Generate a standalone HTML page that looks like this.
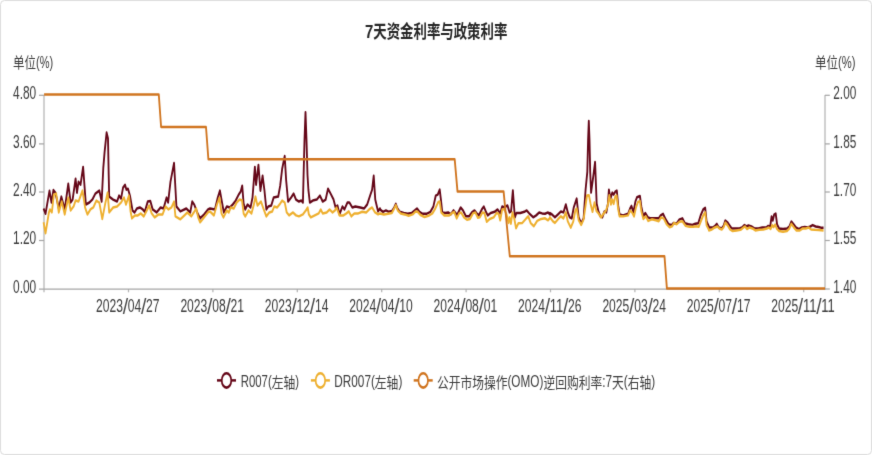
<!DOCTYPE html>
<html lang="zh-CN"><head><meta charset="utf-8"><title>7天资金利率与政策利率</title>
<style>html,body{margin:0;padding:0;background:#fff;}body{width:872px;height:455px;overflow:hidden;}svg{display:block;}</style>
</head><body>
<svg width="872" height="455" viewBox="0 0 872 455">
<defs><filter id="soft" x="0" y="0" width="100%" height="100%" color-interpolation-filters="sRGB"><feConvolveMatrix order="3" kernelMatrix="0.01 0.08 0.01 0.08 0.64 0.08 0.01 0.08 0.01" edgeMode="duplicate" preserveAlpha="false"/></filter></defs>
<g filter="url(#soft)">
<rect x="-2" y="-2" width="876" height="459" fill="#fff"/><rect x="0.5" y="0.5" width="871" height="454" rx="4" ry="4" fill="#fff" stroke="#dadada" stroke-width="1"/>
<g stroke="#b4b4b4" stroke-width="1.25" fill="none">
<path d="M44.0 95.0 V292.3 M825.0 95.0 V289.6"/>
<path d="M212.90 289 V292.3"/>
<path d="M297.30 289 V292.3"/>
<path d="M381.70 289 V292.3"/>
<path d="M466.10 289 V292.3"/>
<path d="M550.50 289 V292.3"/>
<path d="M634.90 289 V292.3"/>
<path d="M719.30 289 V292.3"/>
<path d="M803.70 289 V292.3"/>
<path d="M128.5 289 V292.3"/>
</g>
<g stroke="#a6a6a6" stroke-width="1.25" fill="none">
<path d="M39 289 H825.6"/>
<path d="M39 95.30 H44.0"/>
<path d="M39 143.90 H44.0"/>
<path d="M39 192.00 H44.0"/>
<path d="M39 240.50 H44.0"/>
<path d="M825.0 95.30 H829.8"/>
<path d="M825.0 143.90 H829.8"/>
<path d="M825.0 192.00 H829.8"/>
<path d="M825.0 240.50 H829.8"/>
<path d="M825.0 289.00 H829.8"/>
</g>
<g transform="scale(0.74 1)" fill="none" stroke-width="2.5" stroke-linejoin="round" stroke-linecap="butt">
<path d="M58.86 208.46 L61.53 213.80 L66.88 190.66 L69.55 202.53 L72.22 190.07 L74.89 192.64 L79.43 208.46 L82.91 196.59 L87.45 209.45 L92.26 183.74 L95.46 202.53 L98.14 199.56 L102.14 178.79 L104.01 192.64 L106.15 181.76 L108.82 184.73 L112.30 166.92 L116.04 204.51 L120.84 202.53 L124.85 199.56 L128.86 193.63 L134.20 190.66 L137.41 201.54 L139.59 168.00 L141.35 152.00 L144.05 132.60 L145.95 138.40 L146.89 175.00 L147.56 196.59 L152.90 199.56 L158.25 201.54 L160.92 195.60 L163.59 198.57 L166.26 187.69 L168.93 184.73 L170.80 189.67 L172.94 188.68 L175.61 195.60 L179.09 210.44 L181.76 212.42 L184.96 208.46 L188.97 207.47 L192.98 209.45 L195.65 211.82 L199.66 201.54 L203.13 200.95 L206.34 209.45 L211.68 212.42 L217.02 207.47 L221.03 208.46 L225.04 197.58 L227.18 202.53 L230.38 181.76 L235.19 162.97 L238.40 206.48 L243.74 211.43 L251.76 208.46 L257.10 212.42 L259.77 201.54 L262.44 204.51 L266.45 212.42 L270.46 218.35 L275.80 214.40 L281.14 209.45 L283.78 208.46 L290.46 209.45 L293.94 198.57 L297.14 190.66 L299.81 201.54 L302.49 212.42 L306.49 206.48 L310.50 207.47 L314.51 204.51 L318.52 200.55 L322.52 194.62 L325.19 191.65 L327.33 185.71 L329.20 203.52 L331.34 209.45 L334.54 204.51 L338.55 207.47 L341.22 197.58 L344.43 166.92 L346.03 184.73 L349.24 164.95 L351.91 190.66 L354.85 175.82 L357.25 189.67 L359.93 209.45 L362.60 206.48 L366.60 205.49 L369.81 197.58 L375.96 196.59 L378.63 185.71 L381.30 168.90 L384.73 156.00 L386.64 179.78 L389.31 201.54 L393.32 197.58 L396.79 193.63 L400.00 199.56 L404.01 201.54 L407.21 200.55 L409.35 202.53 L410.27 175.00 L411.49 140.00 L412.84 112.30 L414.19 140.00 L415.54 175.00 L416.76 190.00 L418.70 202.53 L422.71 200.55 L428.05 199.56 L432.33 195.60 L436.07 201.54 L440.07 199.56 L443.28 188.68 L446.75 193.63 L450.76 199.56 L453.43 207.47 L456.10 205.49 L458.78 214.40 L462.78 206.48 L465.46 209.45 L469.46 202.53 L472.13 202.53 L476.14 207.47 L480.15 206.48 L486.83 207.47 L492.17 208.46 L496.18 204.51 L500.19 195.60 L502.86 189.67 L505.00 175.82 L507.13 199.56 L510.87 211.43 L513.54 208.46 L513.51 209.45 L517.52 211.82 L521.53 210.44 L525.54 211.82 L529.54 211.03 L532.75 207.47 L534.89 203.91 L537.02 208.46 L540.23 211.82 L545.57 213.01 L550.92 213.80 L556.26 213.01 L560.27 210.44 L563.47 208.46 L566.95 211.82 L570.95 213.80 L576.30 213.80 L581.64 211.82 L585.65 206.48 L588.85 195.60 L591.53 194.62 L594.20 189.67 L595.80 199.56 L597.67 212.42 L601.68 213.01 L605.68 212.42 L609.16 214.40 L612.90 210.44 L617.71 214.99 L622.52 207.47 L625.72 210.44 L629.73 216.37 L633.74 216.37 L637.74 212.42 L641.22 210.44 L644.42 213.41 L647.10 215.38 L651.10 209.45 L653.77 206.48 L656.45 211.43 L659.12 215.38 L663.13 213.01 L668.47 211.82 L672.48 209.45 L675.95 213.41 L678.62 206.48 L681.83 207.47 L685.83 205.49 L688.51 212.42 L690.64 211.43 L693.05 190.46 L695.72 217.36 L697.86 213.01 L703.20 213.01 L708.54 211.82 L711.75 210.44 L715.22 213.41 L720.57 217.36 L724.57 215.38 L728.58 212.42 L732.59 213.41 L736.60 213.80 L740.60 212.42 L743.27 214.40 L743.24 213.01 L745.91 214.40 L749.92 217.36 L753.93 214.40 L757.94 211.43 L761.41 212.42 L764.62 204.51 L767.29 212.42 L769.96 217.36 L772.63 218.35 L775.30 207.47 L779.31 198.57 L781.98 217.36 L785.46 223.30 L788.66 218.35 L791.33 189.67 L793.65 172.00 L794.73 140.00 L795.68 121.00 L796.62 140.00 L797.57 172.00 L798.78 192.60 L801.48 177.80 L804.16 161.98 L806.29 203.52 L808.70 211.43 L811.37 216.37 L814.04 217.36 L816.71 211.43 L819.38 212.42 L821.52 203.52 L822.86 189.67 L825.00 198.57 L827.40 192.64 L829.27 194.62 L831.41 191.65 L833.54 190.66 L835.41 205.49 L837.28 214.40 L842.09 215.38 L848.77 213.80 L851.44 208.46 L853.31 205.89 L855.99 212.42 L858.66 201.54 L860.80 197.19 L864.80 196.00 L866.67 206.48 L869.34 216.37 L872.02 213.01 L875.49 217.36 L879.50 218.35 L884.84 218.35 L890.18 218.35 L892.85 215.38 L896.06 213.80 L899.53 219.34 L903.54 224.29 L907.55 225.27 L910.22 222.90 L914.23 223.69 L918.24 219.34 L922.24 218.35 L925.45 223.30 L930.26 224.29 L935.60 224.88 L939.61 223.69 L943.62 223.30 L946.82 215.38 L950.30 209.45 L952.97 207.87 L954.84 221.32 L958.31 227.25 L957.97 227.47 L963.31 227.47 L966.78 225.49 L968.65 223.91 L971.33 227.47 L975.33 228.46 L978.01 225.49 L980.14 220.55 L983.35 222.53 L986.02 225.49 L988.69 228.46 L994.04 228.46 L999.38 228.46 L1003.39 227.08 L1006.06 225.10 L1008.73 226.48 L1011.40 225.49 L1015.41 226.48 L1019.42 228.46 L1024.76 228.46 L1030.10 227.47 L1035.45 227.47 L1038.12 225.89 L1040.79 226.48 L1042.66 216.59 L1044.26 220.55 L1046.13 214.62 L1048.27 213.63 L1050.14 224.51 L1052.81 228.46 L1058.15 229.05 L1063.50 228.46 L1066.70 226.48 L1069.38 221.54 L1072.05 223.91 L1075.52 227.47 L1079.53 229.05 L1083.54 227.47 L1087.54 227.08 L1091.55 227.47 L1095.02 226.48 L1098.23 225.10 L1102.24 226.48 L1106.24 227.08 L1110.25 227.87 L1112.92 227.87" stroke="#650718"/>
<path d="M58.86 222.31 L61.53 233.19 L66.08 212.42 L67.41 209.45 L70.08 212.42 L72.76 194.62 L75.96 193.63 L79.43 212.42 L83.44 201.54 L87.45 214.40 L92.26 197.58 L95.46 210.44 L99.47 206.48 L102.14 200.55 L106.15 201.54 L111.49 190.66 L114.97 207.47 L118.17 214.40 L122.18 209.45 L126.19 207.47 L130.20 200.55 L134.20 202.53 L138.21 218.95 L142.22 203.52 L145.42 192.64 L147.56 212.42 L152.90 207.47 L158.25 206.48 L163.59 202.53 L167.60 197.58 L170.27 204.51 L174.28 195.60 L176.42 211.43 L178.29 218.35 L182.29 215.38 L186.30 215.38 L190.31 213.41 L194.32 216.37 L198.32 210.44 L201.53 205.49 L205.00 213.41 L209.01 217.36 L214.35 214.40 L219.70 214.40 L223.70 206.48 L227.71 209.45 L231.72 207.47 L235.19 201.54 L237.06 216.37 L243.74 219.34 L249.08 215.38 L253.09 212.42 L258.43 216.37 L261.91 212.42 L265.11 208.46 L267.79 217.36 L270.46 222.31 L275.80 217.36 L281.14 212.42 L283.78 211.43 L289.13 215.38 L293.13 204.51 L296.61 197.58 L299.28 213.41 L301.95 217.36 L306.49 210.44 L309.16 212.42 L311.84 207.47 L315.84 208.46 L319.85 202.53 L323.86 199.56 L327.06 200.55 L329.20 213.41 L331.34 216.37 L335.88 210.44 L339.89 213.41 L343.09 204.51 L345.23 196.59 L347.90 205.49 L352.71 201.54 L355.92 208.46 L359.93 216.37 L363.93 212.42 L367.94 211.43 L370.61 206.48 L374.62 207.47 L378.63 203.52 L381.30 200.55 L384.77 202.53 L387.44 212.42 L390.65 215.38 L395.99 212.42 L400.00 215.38 L404.01 216.37 L409.35 214.40 L413.36 210.44 L415.76 207.47 L417.37 214.40 L420.04 217.36 L425.38 215.38 L430.72 213.41 L433.40 209.45 L436.07 213.41 L441.41 212.42 L445.42 209.45 L449.43 212.42 L452.63 210.44 L454.77 207.47 L458.78 215.38 L464.12 215.38 L468.13 213.41 L471.33 211.43 L474.81 216.37 L478.81 213.41 L484.16 213.41 L489.50 211.82 L494.84 212.42 L498.85 209.45 L502.86 207.47 L506.87 212.42 L510.87 214.40 L513.51 213.41 L518.86 214.40 L524.20 213.80 L529.54 213.01 L532.75 208.46 L534.89 205.10 L537.56 210.44 L541.57 213.41 L546.91 214.40 L552.25 215.78 L557.60 214.40 L561.60 211.43 L564.27 211.82 L568.28 214.99 L573.63 216.97 L578.97 215.78 L584.31 213.41 L588.32 208.46 L592.33 201.93 L594.20 201.54 L596.33 212.42 L600.34 215.38 L607.02 215.38 L611.03 213.01 L613.70 211.82 L617.17 218.35 L620.38 213.41 L623.05 212.42 L627.06 217.36 L631.07 219.74 L635.07 218.95 L639.08 213.41 L642.29 212.42 L645.76 217.76 L648.43 217.36 L651.90 212.42 L654.58 213.01 L657.78 221.71 L661.79 218.95 L667.13 217.36 L671.14 213.01 L673.81 213.80 L675.95 220.33 L678.62 209.45 L681.29 209.05 L684.50 214.40 L687.17 222.90 L688.51 217.36 L690.38 223.69 L692.51 212.42 L695.18 219.34 L697.32 228.24 L700.53 223.30 L705.87 222.90 L711.21 218.35 L713.89 216.37 L717.09 222.90 L721.37 226.26 L725.91 220.92 L731.25 218.95 L736.60 218.35 L740.60 220.33 L743.27 217.76 L743.24 217.36 L747.25 221.32 L749.92 222.90 L753.93 219.34 L757.94 216.37 L761.41 218.35 L764.62 212.42 L767.29 221.32 L771.30 227.65 L774.77 221.32 L777.44 210.44 L779.31 208.46 L781.98 220.33 L785.46 224.88 L788.66 219.34 L791.33 205.49 L793.20 195.60 L795.87 195.21 L798.01 203.52 L800.68 211.82 L803.36 202.53 L806.03 211.03 L808.70 213.41 L812.17 217.36 L815.38 213.80 L818.58 211.03 L821.26 205.49 L823.39 195.21 L825.53 204.51 L827.40 199.56 L829.27 203.91 L831.41 196.59 L833.28 195.60 L835.41 209.45 L837.28 216.37 L842.09 216.37 L848.77 215.38 L851.44 210.44 L854.12 212.42 L856.79 216.37 L859.46 207.47 L862.13 201.93 L864.80 201.14 L866.67 211.43 L869.34 218.95 L872.82 216.37 L876.02 220.92 L880.83 219.34 L886.18 220.33 L890.18 221.32 L893.39 217.36 L896.86 218.35 L900.87 224.29 L904.88 227.25 L908.35 226.26 L911.02 222.90 L914.23 224.29 L918.24 221.71 L922.24 221.32 L926.25 225.67 L931.59 226.86 L936.94 226.86 L940.94 226.26 L944.15 226.86 L947.62 220.33 L950.30 215.38 L952.97 212.42 L954.84 225.27 L958.31 230.22 L957.97 230.44 L961.98 229.45 L965.98 227.47 L969.46 226.48 L972.13 228.46 L975.33 229.45 L978.01 227.08 L980.14 222.53 L983.35 225.49 L986.55 229.45 L990.03 231.03 L995.37 230.44 L1000.71 229.85 L1004.72 227.47 L1006.86 226.48 L1009.53 229.05 L1012.74 227.47 L1016.74 228.46 L1020.75 230.44 L1026.10 229.85 L1031.44 229.45 L1036.25 228.46 L1038.92 227.47 L1041.32 229.05 L1043.46 225.10 L1045.33 227.08 L1047.47 224.51 L1049.61 228.46 L1052.81 231.03 L1058.15 231.82 L1063.50 231.03 L1066.70 228.46 L1069.38 223.91 L1072.85 227.47 L1076.32 230.44 L1080.86 230.44 L1084.87 228.46 L1088.88 228.46 L1092.89 227.47 L1096.09 229.45 L1100.90 229.85 L1106.24 230.04 L1112.92 230.44" stroke="#eeb030"/>
<path d="M59.59 94.60 L214.59 94.60 L217.70 127.00 L278.38 127.00 L281.62 159.30 L614.46 159.30 L618.24 191.50 L680.54 191.50 L688.92 256.30 L897.97 256.30 L901.22 288.50 L1114.86 288.50" stroke="#d07520"/>
</g>
<text font-family="'Liberation Sans','Noto Sans CJK SC',sans-serif" fill="#262626" font-weight="bold" lengthAdjust="spacingAndGlyphs"><tspan x="365.00" y="37.50" font-size="17.8" textLength="8.30" lengthAdjust="spacingAndGlyphs">7</tspan><tspan x="373.30" y="37.50" font-size="17.8" textLength="134.00" lengthAdjust="spacingAndGlyphs">天资金利率与政策利率</tspan></text>
<text font-family="'Liberation Sans','Noto Sans CJK SC',sans-serif" fill="#3a3a3a" lengthAdjust="spacingAndGlyphs"><tspan x="13.10" y="68.20" font-size="14.8" textLength="23.00" lengthAdjust="spacingAndGlyphs">单位</tspan><tspan x="36.10" y="68.20" font-size="16.5" textLength="17.20" lengthAdjust="spacingAndGlyphs">(%)</tspan></text>
<text font-family="'Liberation Sans','Noto Sans CJK SC',sans-serif" fill="#3a3a3a" lengthAdjust="spacingAndGlyphs"><tspan x="815.00" y="68.20" font-size="14.8" textLength="23.00" lengthAdjust="spacingAndGlyphs">单位</tspan><tspan x="838.00" y="68.20" font-size="16.5" textLength="17.50" lengthAdjust="spacingAndGlyphs">(%)</tspan></text>
<text x="36.20" y="98.95" font-size="18.2" text-anchor="end" textLength="23.20" font-family="'Liberation Sans','Noto Sans CJK SC',sans-serif" fill="#3a3a3a" lengthAdjust="spacingAndGlyphs">4.80</text>
<text x="36.20" y="147.55" font-size="18.2" text-anchor="end" textLength="23.20" font-family="'Liberation Sans','Noto Sans CJK SC',sans-serif" fill="#3a3a3a" lengthAdjust="spacingAndGlyphs">3.60</text>
<text x="36.20" y="195.65" font-size="18.2" text-anchor="end" textLength="23.20" font-family="'Liberation Sans','Noto Sans CJK SC',sans-serif" fill="#3a3a3a" lengthAdjust="spacingAndGlyphs">2.40</text>
<text x="36.20" y="244.15" font-size="18.2" text-anchor="end" textLength="23.20" font-family="'Liberation Sans','Noto Sans CJK SC',sans-serif" fill="#3a3a3a" lengthAdjust="spacingAndGlyphs">1.20</text>
<text x="36.20" y="292.65" font-size="18.2" text-anchor="end" textLength="23.20" font-family="'Liberation Sans','Noto Sans CJK SC',sans-serif" fill="#3a3a3a" lengthAdjust="spacingAndGlyphs">0.00</text>
<text x="833.30" y="98.95" font-size="18.2" text-anchor="start" textLength="23.00" font-family="'Liberation Sans','Noto Sans CJK SC',sans-serif" fill="#3a3a3a" lengthAdjust="spacingAndGlyphs">2.00</text>
<text x="833.30" y="147.55" font-size="18.2" text-anchor="start" textLength="23.00" font-family="'Liberation Sans','Noto Sans CJK SC',sans-serif" fill="#3a3a3a" lengthAdjust="spacingAndGlyphs">1.85</text>
<text x="833.30" y="195.65" font-size="18.2" text-anchor="start" textLength="23.00" font-family="'Liberation Sans','Noto Sans CJK SC',sans-serif" fill="#3a3a3a" lengthAdjust="spacingAndGlyphs">1.70</text>
<text x="833.30" y="244.15" font-size="18.2" text-anchor="start" textLength="23.00" font-family="'Liberation Sans','Noto Sans CJK SC',sans-serif" fill="#3a3a3a" lengthAdjust="spacingAndGlyphs">1.55</text>
<text x="833.30" y="292.65" font-size="18.2" text-anchor="start" textLength="23.00" font-family="'Liberation Sans','Noto Sans CJK SC',sans-serif" fill="#3a3a3a" lengthAdjust="spacingAndGlyphs">1.40</text>
<text font-family="'Liberation Sans','Noto Sans CJK SC',sans-serif" fill="#3a3a3a"><tspan x="96.00" y="312.40" font-size="18" textLength="26.92" lengthAdjust="spacingAndGlyphs">2023</tspan><tspan x="122.66" y="314.00" font-size="21.5" textLength="5.4" lengthAdjust="spacingAndGlyphs" fill="#4a4a4a">/</tspan><tspan x="127.79" y="312.40" font-size="18" textLength="13.46" lengthAdjust="spacingAndGlyphs">04</tspan><tspan x="140.99" y="314.00" font-size="21.5" textLength="5.4" lengthAdjust="spacingAndGlyphs" fill="#4a4a4a">/</tspan><tspan x="146.12" y="312.40" font-size="18" textLength="13.46" lengthAdjust="spacingAndGlyphs">27</tspan></text>
<text font-family="'Liberation Sans','Noto Sans CJK SC',sans-serif" fill="#3a3a3a"><tspan x="180.40" y="312.40" font-size="18" textLength="26.92" lengthAdjust="spacingAndGlyphs">2023</tspan><tspan x="207.06" y="314.00" font-size="21.5" textLength="5.4" lengthAdjust="spacingAndGlyphs" fill="#4a4a4a">/</tspan><tspan x="212.19" y="312.40" font-size="18" textLength="13.46" lengthAdjust="spacingAndGlyphs">08</tspan><tspan x="225.39" y="314.00" font-size="21.5" textLength="5.4" lengthAdjust="spacingAndGlyphs" fill="#4a4a4a">/</tspan><tspan x="230.52" y="312.40" font-size="18" textLength="13.46" lengthAdjust="spacingAndGlyphs">21</tspan></text>
<text font-family="'Liberation Sans','Noto Sans CJK SC',sans-serif" fill="#3a3a3a"><tspan x="264.80" y="312.40" font-size="18" textLength="26.92" lengthAdjust="spacingAndGlyphs">2023</tspan><tspan x="291.46" y="314.00" font-size="21.5" textLength="5.4" lengthAdjust="spacingAndGlyphs" fill="#4a4a4a">/</tspan><tspan x="296.59" y="312.40" font-size="18" textLength="13.46" lengthAdjust="spacingAndGlyphs">12</tspan><tspan x="309.79" y="314.00" font-size="21.5" textLength="5.4" lengthAdjust="spacingAndGlyphs" fill="#4a4a4a">/</tspan><tspan x="314.92" y="312.40" font-size="18" textLength="13.46" lengthAdjust="spacingAndGlyphs">14</tspan></text>
<text font-family="'Liberation Sans','Noto Sans CJK SC',sans-serif" fill="#3a3a3a"><tspan x="349.20" y="312.40" font-size="18" textLength="26.92" lengthAdjust="spacingAndGlyphs">2024</tspan><tspan x="375.86" y="314.00" font-size="21.5" textLength="5.4" lengthAdjust="spacingAndGlyphs" fill="#4a4a4a">/</tspan><tspan x="380.99" y="312.40" font-size="18" textLength="13.46" lengthAdjust="spacingAndGlyphs">04</tspan><tspan x="394.19" y="314.00" font-size="21.5" textLength="5.4" lengthAdjust="spacingAndGlyphs" fill="#4a4a4a">/</tspan><tspan x="399.32" y="312.40" font-size="18" textLength="13.46" lengthAdjust="spacingAndGlyphs">10</tspan></text>
<text font-family="'Liberation Sans','Noto Sans CJK SC',sans-serif" fill="#3a3a3a"><tspan x="433.60" y="312.40" font-size="18" textLength="26.92" lengthAdjust="spacingAndGlyphs">2024</tspan><tspan x="460.26" y="314.00" font-size="21.5" textLength="5.4" lengthAdjust="spacingAndGlyphs" fill="#4a4a4a">/</tspan><tspan x="465.39" y="312.40" font-size="18" textLength="13.46" lengthAdjust="spacingAndGlyphs">08</tspan><tspan x="478.59" y="314.00" font-size="21.5" textLength="5.4" lengthAdjust="spacingAndGlyphs" fill="#4a4a4a">/</tspan><tspan x="483.72" y="312.40" font-size="18" textLength="13.46" lengthAdjust="spacingAndGlyphs">01</tspan></text>
<text font-family="'Liberation Sans','Noto Sans CJK SC',sans-serif" fill="#3a3a3a"><tspan x="518.00" y="312.40" font-size="18" textLength="26.92" lengthAdjust="spacingAndGlyphs">2024</tspan><tspan x="544.65" y="314.00" font-size="21.5" textLength="5.4" lengthAdjust="spacingAndGlyphs" fill="#4a4a4a">/</tspan><tspan x="549.79" y="312.40" font-size="18" textLength="13.46" lengthAdjust="spacingAndGlyphs">11</tspan><tspan x="562.98" y="314.00" font-size="21.5" textLength="5.4" lengthAdjust="spacingAndGlyphs" fill="#4a4a4a">/</tspan><tspan x="568.12" y="312.40" font-size="18" textLength="13.46" lengthAdjust="spacingAndGlyphs">26</tspan></text>
<text font-family="'Liberation Sans','Noto Sans CJK SC',sans-serif" fill="#3a3a3a"><tspan x="602.40" y="312.40" font-size="18" textLength="26.92" lengthAdjust="spacingAndGlyphs">2025</tspan><tspan x="629.05" y="314.00" font-size="21.5" textLength="5.4" lengthAdjust="spacingAndGlyphs" fill="#4a4a4a">/</tspan><tspan x="634.19" y="312.40" font-size="18" textLength="13.46" lengthAdjust="spacingAndGlyphs">03</tspan><tspan x="647.38" y="314.00" font-size="21.5" textLength="5.4" lengthAdjust="spacingAndGlyphs" fill="#4a4a4a">/</tspan><tspan x="652.52" y="312.40" font-size="18" textLength="13.46" lengthAdjust="spacingAndGlyphs">24</tspan></text>
<text font-family="'Liberation Sans','Noto Sans CJK SC',sans-serif" fill="#3a3a3a"><tspan x="686.80" y="312.40" font-size="18" textLength="26.92" lengthAdjust="spacingAndGlyphs">2025</tspan><tspan x="713.45" y="314.00" font-size="21.5" textLength="5.4" lengthAdjust="spacingAndGlyphs" fill="#4a4a4a">/</tspan><tspan x="718.59" y="312.40" font-size="18" textLength="13.46" lengthAdjust="spacingAndGlyphs">07</tspan><tspan x="731.78" y="314.00" font-size="21.5" textLength="5.4" lengthAdjust="spacingAndGlyphs" fill="#4a4a4a">/</tspan><tspan x="736.92" y="312.40" font-size="18" textLength="13.46" lengthAdjust="spacingAndGlyphs">17</tspan></text>
<text font-family="'Liberation Sans','Noto Sans CJK SC',sans-serif" fill="#3a3a3a"><tspan x="771.20" y="312.40" font-size="18" textLength="26.92" lengthAdjust="spacingAndGlyphs">2025</tspan><tspan x="797.85" y="314.00" font-size="21.5" textLength="5.4" lengthAdjust="spacingAndGlyphs" fill="#4a4a4a">/</tspan><tspan x="802.99" y="312.40" font-size="18" textLength="13.46" lengthAdjust="spacingAndGlyphs">11</tspan><tspan x="816.18" y="314.00" font-size="21.5" textLength="5.4" lengthAdjust="spacingAndGlyphs" fill="#4a4a4a">/</tspan><tspan x="821.32" y="312.40" font-size="18" textLength="13.46" lengthAdjust="spacingAndGlyphs">11</tspan></text>
<path d="M217.00 380.4 H236.00" stroke="#650718" stroke-width="2.5" fill="none"/>
<ellipse cx="226.50" cy="380.4" rx="4.6" ry="7.2" fill="#fff" stroke="none"/>
<g transform="translate(226.50 380.4) scale(0.66 1)"><circle r="7.2" fill="#fff" stroke="#650718" stroke-width="2.6"/></g>
<path d="M310.90 380.4 H329.90" stroke="#eeb030" stroke-width="2.5" fill="none"/>
<ellipse cx="320.40" cy="380.4" rx="4.6" ry="7.2" fill="#fff" stroke="none"/>
<g transform="translate(320.40 380.4) scale(0.66 1)"><circle r="7.2" fill="#fff" stroke="#eeb030" stroke-width="2.6"/></g>
<path d="M413.70 380.4 H432.70" stroke="#d07520" stroke-width="2.5" fill="none"/>
<ellipse cx="423.20" cy="380.4" rx="4.6" ry="7.2" fill="#fff" stroke="none"/>
<g transform="translate(423.20 380.4) scale(0.66 1)"><circle r="7.2" fill="#fff" stroke="#d07520" stroke-width="2.6"/></g>
<text font-family="'Liberation Sans','Noto Sans CJK SC',sans-serif" fill="#3a3a3a" lengthAdjust="spacingAndGlyphs"><tspan x="240.70" y="387.40" font-size="16.5" textLength="30.99" lengthAdjust="spacingAndGlyphs">R007(</tspan><tspan x="271.69" y="388.30" font-size="15.2" textLength="23.52" lengthAdjust="spacingAndGlyphs">左轴</tspan><tspan x="295.21" y="387.40" font-size="16.5" textLength="3.79" lengthAdjust="spacingAndGlyphs">)</tspan></text>
<text font-family="'Liberation Sans','Noto Sans CJK SC',sans-serif" fill="#3a3a3a" lengthAdjust="spacingAndGlyphs"><tspan x="334.30" y="387.40" font-size="16.5" textLength="40.56" lengthAdjust="spacingAndGlyphs">DR007(</tspan><tspan x="374.86" y="388.30" font-size="15.2" textLength="23.52" lengthAdjust="spacingAndGlyphs">左轴</tspan><tspan x="398.38" y="387.40" font-size="16.5" textLength="3.92" lengthAdjust="spacingAndGlyphs">)</tspan></text>
<text font-family="'Liberation Sans','Noto Sans CJK SC',sans-serif" fill="#3a3a3a" lengthAdjust="spacingAndGlyphs"><tspan x="436.90" y="388.30" font-size="15.2" textLength="70.56" lengthAdjust="spacingAndGlyphs">公开市场操作</tspan><tspan x="507.46" y="387.40" font-size="16.5" textLength="35.92" lengthAdjust="spacingAndGlyphs">(OMO)</tspan><tspan x="543.38" y="388.30" font-size="15.2" textLength="58.80" lengthAdjust="spacingAndGlyphs">逆回购利率</tspan><tspan x="602.18" y="387.40" font-size="16.5" textLength="9.81" lengthAdjust="spacingAndGlyphs">:7</tspan><tspan x="611.99" y="388.30" font-size="15.2" textLength="11.76" lengthAdjust="spacingAndGlyphs">天</tspan><tspan x="623.75" y="387.40" font-size="16.5" textLength="3.92" lengthAdjust="spacingAndGlyphs">(</tspan><tspan x="627.66" y="388.30" font-size="15.2" textLength="23.52" lengthAdjust="spacingAndGlyphs">右轴</tspan><tspan x="651.18" y="387.40" font-size="16.5" textLength="3.92" lengthAdjust="spacingAndGlyphs">)</tspan></text>
</g>
</svg>
</body></html>
